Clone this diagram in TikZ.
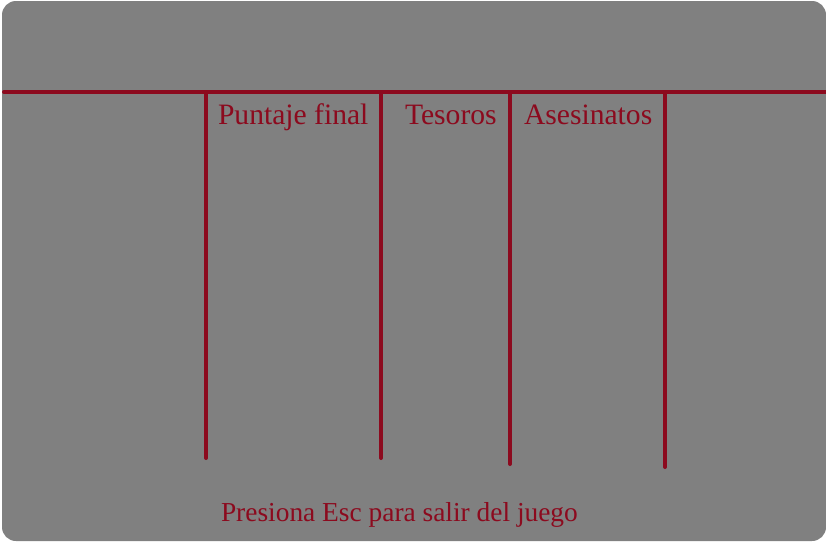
\documentclass[tikz,border=0pt]{standalone}
\usepackage{fontspec}
\setmainfont{Liberation Serif}
\usepackage{tikz}

\definecolor{panelgray}{HTML}{808080}
\definecolor{scorered}{HTML}{8C0A1E}

\begin{document}
\begin{tikzpicture}[x=1pt, y=-1pt,
  every node/.style={inner sep=0pt, outer sep=0pt, anchor=base west, text=scorered},
  rule/.style={draw=scorered, line width=4pt, line cap=round},
  heading/.style={font=\fontsize{29.6}{30}\selectfont},
  hint/.style={font=\fontsize{27.4}{28}\selectfont}]
\useasboundingbox[fill=white] (0,0) rectangle (826,541);
\fill[panelgray, rounded corners=14pt] (2,1) rectangle (826,541);

% column headings
\node[heading] (puntaje) at (218,124) {Puntaje final};
\node[heading] (tesoros) at (405,124) {Tesoros};
\node[heading] (asesinatos) at (524,124) {Asesinatos};

% rules
\coordinate (left) at (4,92);
\coordinate (right) at (826,92);
\coordinate (top1) at (206,92);
\coordinate (top2) at (381,92);
\coordinate (top3) at (510,92);
\coordinate (top4) at (665,92);
\coordinate (bot1) at (206,458);
\coordinate (bot2) at (381,458);
\coordinate (bot3) at (510,464);
\coordinate (bot4) at (665,467);
\draw[rule] (left) -- (right);
\draw[rule] (top1) -- (bot1);
\draw[rule] (top2) -- (bot2);
\draw[rule] (top3) -- (bot3);
\draw[rule] (top4) -- (bot4);

\node[hint] (salir) at (221,521) {Presiona Esc para salir del juego};
\end{tikzpicture}
\end{document}
